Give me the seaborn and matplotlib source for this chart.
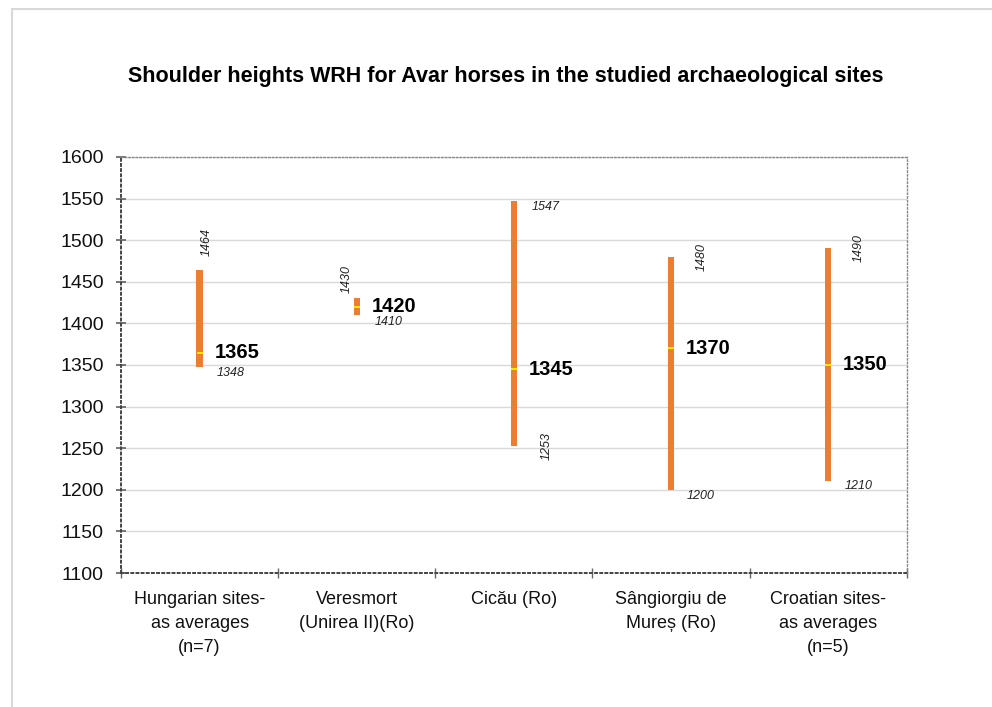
import numpy as np
import pandas as pd
import matplotlib
matplotlib.use('Agg')
import matplotlib.pyplot as plt
from matplotlib.lines import Line2D
import seaborn as sns

sites = ['Hungarian sites-\nas averages\n(n=7)', 'Veresmort\n(Unirea II)(Ro)', 'Cicău (Ro)',
         'Sângiorgiu de\nMureș (Ro)', 'Croatian sites-\nas averages\n(n=5)']
wrh_min = [1348, 1410, 1253, 1200, 1210]
wrh_max = [1464, 1430, 1547, 1480, 1490]
wrh_mean = [1365, 1420, 1345, 1370, 1350]

df = pd.DataFrame({'site': sites, 'lo': wrh_min, 'hi': wrh_max, 'mean': wrh_mean})
df['span'] = df['hi'] - df['lo']

sns.set_theme(style='white')
plt.rcParams['font.family'] = ['Liberation Sans', 'DejaVu Sans']

fig = plt.figure(figsize=(9.92, 7.07), dpi=100)
ax = fig.add_axes([0.122, 0.1895, 0.792, 0.5885])

# range bars (min..max), drawn as floating bars
sns.barplot(data=df, x='site', y='span', bottom=df['lo'].values, color='#ED7D31',
            saturation=1, width=0.04, linewidth=0, ax=ax, zorder=3)
# mean tick
sns.scatterplot(data=df, x='site', y='mean', marker='_', s=20, color='#FFE600',
                linewidth=1.5, ax=ax, zorder=4, legend=False)

ax.set_ylim(1100, 1600)
ax.set_xlim(-0.5, 4.5)
ax.set_yticks(np.arange(1100, 1601, 50))
ax.yaxis.grid(True, color='#d9d9d9', linewidth=1)
ax.set_axisbelow(True)
ax.set_xlabel('')
ax.set_ylabel('')
ax.tick_params(axis='y', labelsize=14, length=7, direction='inout', color='#666666',
               left=True, pad=9, labelcolor='#111111')
ax.set_xticks(range(len(sites)))
ax.set_xticklabels(sites, fontsize=13, linespacing=1.55, color='#111111')
ax.tick_params(axis='x', which='major', length=0, pad=13)
ax.set_xticks(np.arange(-0.5, 5, 1), minor=True)
ax.tick_params(axis='x', which='minor', length=7, direction='inout', color='#666666', bottom=True)

for side in ['left', 'bottom']:
    ax.spines[side].set_linestyle(':')
    ax.spines[side].set_color('#444444')
    ax.spines[side].set_linewidth(1.4)
for side in ['top', 'right']:
    ax.spines[side].set_visible(True)
    ax.spines[side].set_linestyle(':')
    ax.spines[side].set_color('#888888')
    ax.spines[side].set_linewidth(1.0)

# labels: (dx, dy) in pixels, rotation
max_pos = [(7, 14, 90, 'center', 'bottom'), (-10, 5, 90, 'center', 'bottom'),
           (18, -6, 0, 'left', 'center'), (31, 0, 90, 'center', 'center'),
           (31, 0, 90, 'center', 'center')]
min_pos = [(17, -6, 0, 'left', 'center'), (18, -7, 0, 'left', 'center'),
           (33, 0, 90, 'center', 'center'), (16, -6, 0, 'left', 'center'),
           (17, -5, 0, 'left', 'center')]
for i in range(len(sites)):
    dx, dy, rot, ha, va = max_pos[i]
    ax.annotate(str(wrh_max[i]), (i, wrh_max[i]), xytext=(dx, dy), textcoords='offset pixels',
                rotation=rot, ha=ha, va=va, fontsize=9, style='italic', color='#222222')
    dx, dy, rot, ha, va = min_pos[i]
    ax.annotate(str(wrh_min[i]), (i, wrh_min[i]), xytext=(dx, dy), textcoords='offset pixels',
                rotation=rot, ha=ha, va=va, fontsize=9, style='italic', color='#222222')
    ax.annotate(str(wrh_mean[i]), (i, wrh_mean[i]), xytext=(15, 0), textcoords='offset pixels',
                ha='left', va='center', fontsize=14.5, fontweight='bold', color='black')

fig.text(0.51, 0.892, 'Shoulder heights WRH for Avar horses in the studied archaeological sites',
         ha='center', va='center', fontsize=15.5, fontweight='bold', color='black')

# outer chart-area frame
fig.add_artist(Line2D([12 / 992, 1], [1 - 9 / 707, 1 - 9 / 707], transform=fig.transFigure,
                      color='#d9d9d9', linewidth=1.5))
fig.add_artist(Line2D([12 / 992, 12 / 992], [0, 1 - 9 / 707], transform=fig.transFigure,
                      color='#d9d9d9', linewidth=1.5))

fig.savefig('out.png', dpi=100)
